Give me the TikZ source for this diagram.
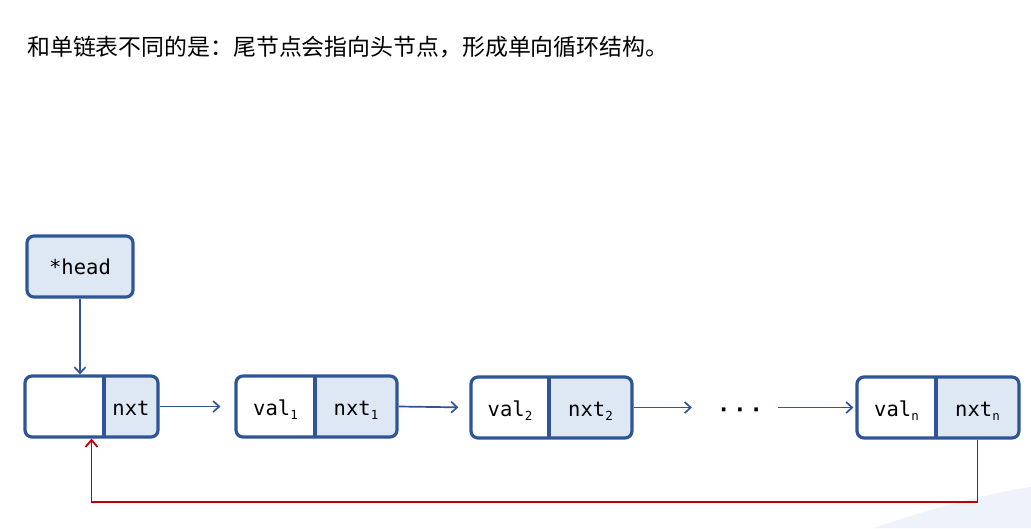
\documentclass[tikz,border=0pt]{standalone}
\usepackage{fontspec}
\newfontfamily\cjk{Noto Sans CJK SC}
\newfontfamily\monof{DejaVu Sans Mono}
\usetikzlibrary{arrows.meta,calc}
\definecolor{boxblue}{HTML}{2F5597}
\definecolor{cellblue}{HTML}{DEE8F5}
\definecolor{loopred}{HTML}{C00000}
\definecolor{bgblue}{HTML}{EEF2FA}
\newcommand\lsub[1]{\raisebox{-4pt}{\fontsize{12.5}{12.5}\selectfont #1}}
% #1 name, #2 left, #3 divider, #4 right, #5 top, #6 bottom, #7 val text, #8 nxt text
\newcommand\llnode[8]{%
  \fill[cellblue] (#3,#5) [rounded corners=7pt] -- (#4,#5) -- (#4,#6) [sharp corners] -- (#3,#6) -- cycle;
  \node[listbox, minimum width={#4-#2}, minimum height={#6-#5}] (#1) at ({(#2+#4)/2},{(#5+#6)/2}) {};
  \draw[boxblue, line width=3.2pt] (#3,#5) -- (#3,#6);
  \node[mono, anchor=base] (#1v) at ({(#2+#3)/2},{(#5+#6)/2+8.5}) {#7};
  \node[mono, anchor=base] (#1x) at ({(#3+#4)/2},{(#5+#6)/2+8.5}) {#8};
}
\tikzset{
  listbox/.style={draw=boxblue, line width=3.2pt, rounded corners=7pt, inner sep=0pt},
  mono/.style={font=\monof\fontsize{20.5}{23}\selectfont, inner sep=0pt},
  link/.style={draw=boxblue, line width=1.7pt, -{Straight Barb[length=6pt,width=11pt]}},
  back/.style={draw=loopred, line width=1.8pt, -{Straight Barb[length=7pt,width=12pt]}},
}
\begin{document}
\begin{tikzpicture}[x=1pt,y=-1pt]
\useasboundingbox (0,0) rectangle (1031,528);
\fill[white] (0,0) rectangle (1031,528);
\fill[bgblue] (873,528) .. controls (940,506) and (990,493) .. (1031,487) -- (1031,528) -- cycle;

\node[anchor=west, inner sep=0pt, font=\cjk\fontsize{22.9}{26}\selectfont] (title) at (27,47)
  {和单链表不同的是：尾节点会指向头节点，形成单向循环结构。};

\node[listbox, fill=cellblue, minimum width=106, minimum height=61, mono] (head) at (80,266.5) {*head};

\llnode{n0}{25}{104}{158}{376}{437}{}{nxt}
\llnode{n1}{236}{315}{397}{376}{437}{val\lsub{1}}{nxt\lsub{1}}
\llnode{n2}{471}{549}{632}{377}{438}{val\lsub{2}}{nxt\lsub{2}}
\llnode{nn}{857}{936}{1019}{377}{438}{val\lsub{n}}{nxt\lsub{n}}

\node[inner sep=0pt, font=\monof\bfseries\fontsize{22}{22}\selectfont] (dots) at (740,413) {·\hspace{3pt}·\hspace{3pt}·};

\draw[link] (head.south) -- (head.south |- n0.north);
\draw[link, shorten >=14pt] (n0.east) -- (n1.west);
\draw[link, shorten >=11pt] (n1.east) -- (n2.west);
\draw[link, shorten >=25pt] (n2.east) -- (n2.east -| dots.west);
\draw[link, shorten <=15pt, shorten >=2pt] (nn.west -| dots.east) -- (nn.west);

\coordinate (loop) at (0,502);
\draw[back] (nnx |- nn.south) -- (nnx |- loop) -| (n0.south);
\end{tikzpicture}
\end{document}
